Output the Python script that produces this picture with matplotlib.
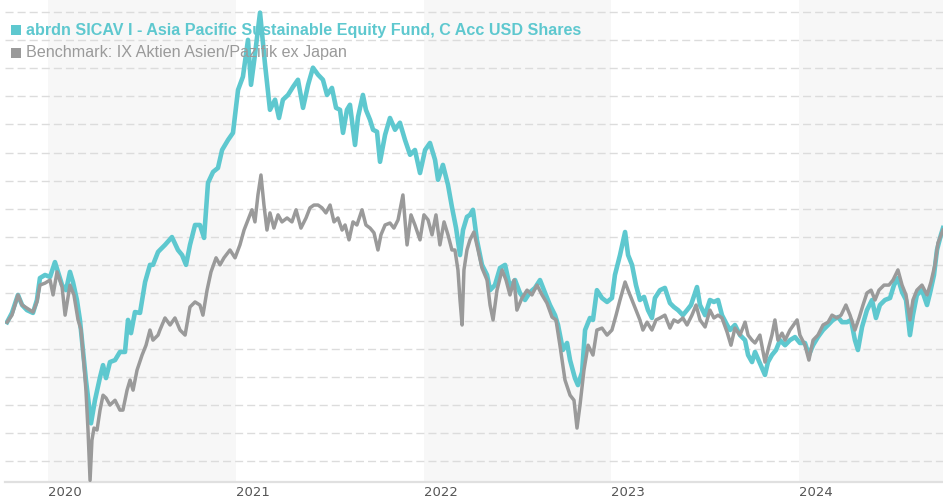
import matplotlib
matplotlib.use("Agg")
import matplotlib.pyplot as plt
from matplotlib.patches import Rectangle
import numpy as np

# ---- data (decimal years, index values) ----
fund_t = [2019.782, 2019.808, 2019.840, 2019.862, 2019.888, 2019.920, 2019.941, 2019.957, 2019.984,
          2020.011, 2020.037, 2020.053, 2020.075, 2020.096, 2020.117, 2020.133, 2020.154, 2020.170,
          2020.186, 2020.202, 2020.218, 2020.229, 2020.250, 2020.277, 2020.293, 2020.309, 2020.330,
          2020.357, 2020.383, 2020.410, 2020.426, 2020.442, 2020.463, 2020.490, 2020.517, 2020.543,
          2020.559, 2020.586, 2020.596, 2020.623, 2020.660, 2020.692, 2020.714, 2020.735, 2020.756,
          2020.783, 2020.809, 2020.831, 2020.852, 2020.879, 2020.905, 2020.927, 2020.959, 2020.985,
          2021.012, 2021.038, 2021.065, 2021.081, 2021.102, 2021.129, 2021.156, 2021.182, 2021.209,
          2021.230, 2021.251, 2021.278, 2021.305, 2021.331, 2021.358, 2021.385, 2021.411, 2021.438,
          2021.464, 2021.486, 2021.512, 2021.534, 2021.555, 2021.571, 2021.592, 2021.608, 2021.635,
          2021.651, 2021.677, 2021.693, 2021.715, 2021.731, 2021.752, 2021.768, 2021.795, 2021.821,
          2021.848, 2021.874, 2021.901, 2021.928, 2021.954, 2021.981, 2022.008, 2022.034, 2022.061,
          2022.077, 2022.103, 2022.130, 2022.151, 2022.173, 2022.194, 2022.210, 2022.231, 2022.247,
          2022.263, 2022.284, 2022.311, 2022.338, 2022.354, 2022.380, 2022.407, 2022.434, 2022.460,
          2022.487, 2022.513, 2022.540, 2022.567, 2022.593, 2022.620, 2022.647, 2022.673, 2022.700,
          2022.716, 2022.742, 2022.764, 2022.780, 2022.806, 2022.822, 2022.844, 2022.860, 2022.886,
          2022.902, 2022.923, 2022.950, 2022.977, 2023.003, 2023.019, 2023.046, 2023.073, 2023.089,
          2023.110, 2023.131, 2023.152, 2023.174, 2023.195, 2023.216, 2023.232, 2023.259, 2023.285,
          2023.312, 2023.333, 2023.355, 2023.381, 2023.403, 2023.424, 2023.456, 2023.472, 2023.499,
          2023.525, 2023.546, 2023.568, 2023.589, 2023.616, 2023.632, 2023.658, 2023.685, 2023.712,
          2023.728, 2023.749, 2023.765, 2023.791, 2023.818, 2023.834, 2023.855, 2023.877, 2023.898,
          2023.925, 2023.951, 2023.978, 2024.004, 2024.031, 2024.052, 2024.074, 2024.100, 2024.127,
          2024.154, 2024.180, 2024.207, 2024.228, 2024.255, 2024.276, 2024.297, 2024.313, 2024.335,
          2024.361, 2024.388, 2024.409, 2024.430, 2024.457, 2024.484, 2024.505, 2024.526, 2024.548,
          2024.569, 2024.590, 2024.606, 2024.627, 2024.654, 2024.681, 2024.697, 2024.718, 2024.734,
          2024.755, 2024.766]
fund_v = [99.6, 102.9, 109.3, 105.7, 103.9, 102.9, 107.5, 115.3, 116.4,
          115.7, 121.0, 117.5, 112.8, 111.0, 117.5, 113.9, 107.5, 100.4,
          89.7, 79.0, 70.1, 63.6, 71.8, 80.0, 84.3, 79.7, 85.4,
          86.1, 89.0, 89.0, 100.4, 95.7, 103.2, 102.9, 113.9, 120.0,
          120.0, 124.6, 125.3, 127.1, 129.9, 125.3, 123.5, 120.0, 127.1,
          134.2, 134.2, 129.6, 149.2, 153.1, 154.5, 160.9, 164.5, 167.0,
          182.3, 187.0, 200.1, 184.1, 194.8, 209.8, 191.2, 175.2, 178.8,
          172.3, 178.8, 180.5, 183.4, 185.9, 175.9, 184.1, 190.2, 187.7,
          185.9, 180.5, 183.0, 175.9, 175.2, 167.0, 175.2, 177.0, 162.7,
          172.7, 180.5, 175.2, 171.6, 168.1, 167.4, 156.7, 166.3, 172.3,
          168.1, 170.6, 164.5, 159.2, 160.9, 152.7, 160.9, 163.4, 157.4,
          150.3, 155.6, 148.5, 140.6, 133.1, 123.5, 132.4, 137.1, 137.8,
          139.6, 128.9, 120.0, 116.4, 111.0, 112.8, 118.9, 120.0, 112.1,
          114.6, 110.0, 107.5, 110.3, 111.8, 114.6, 110.0, 105.7, 102.1,
          98.6, 89.7, 92.2, 86.1, 79.7, 77.2, 81.8, 96.8, 101.1,
          100.4, 111.0, 108.2, 106.8, 108.2, 116.4, 123.5, 131.7, 123.5,
          120.0, 112.8, 107.5, 108.6, 103.9, 101.1, 108.2, 111.0, 111.8,
          106.4, 105.0, 103.9, 102.1, 103.9, 105.7, 112.1, 105.7, 102.1,
          107.5, 106.8, 107.5, 102.1, 98.6, 96.8, 98.6, 95.0, 93.2,
          87.9, 85.4, 89.0, 85.0, 80.8, 85.4, 87.9, 89.7, 93.2,
          91.4, 93.2, 94.3, 92.2, 92.2, 87.9, 91.4, 94.3, 96.8,
          98.6, 100.4, 101.4, 99.6, 99.6, 100.4, 93.2, 89.7, 97.9,
          103.9, 107.5, 101.1, 105.7, 107.5, 108.2, 112.8, 115.3, 110.3,
          107.5, 95.0, 102.1, 109.3, 111.0, 105.7, 110.0, 116.4, 125.3,
          130.7, 133.1]

bench_t = [2019.782, 2019.808, 2019.840, 2019.862, 2019.888, 2019.920, 2019.941, 2019.957, 2019.984,
           2020.011, 2020.027, 2020.048, 2020.075, 2020.091, 2020.117, 2020.138, 2020.160, 2020.176,
           2020.192, 2020.202, 2020.213, 2020.224, 2020.234, 2020.245, 2020.261, 2020.277, 2020.293,
           2020.309, 2020.330, 2020.357, 2020.383, 2020.399, 2020.421, 2020.437, 2020.453, 2020.474,
           2020.501, 2020.522, 2020.543, 2020.559, 2020.586, 2020.596, 2020.623, 2020.650, 2020.676,
           2020.703, 2020.730, 2020.756, 2020.783, 2020.809, 2020.825, 2020.847, 2020.868, 2020.895,
           2020.916, 2020.937, 2020.969, 2020.996, 2021.022, 2021.044, 2021.065, 2021.086, 2021.102,
           2021.118, 2021.134, 2021.150, 2021.166, 2021.182, 2021.203, 2021.225, 2021.246, 2021.273,
           2021.299, 2021.321, 2021.347, 2021.374, 2021.395, 2021.416, 2021.438, 2021.459, 2021.480,
           2021.502, 2021.523, 2021.544, 2021.566, 2021.582, 2021.603, 2021.624, 2021.645, 2021.672,
           2021.693, 2021.715, 2021.736, 2021.757, 2021.773, 2021.795, 2021.821, 2021.842, 2021.864,
           2021.890, 2021.912, 2021.933, 2021.954, 2021.981, 2022.002, 2022.024, 2022.045, 2022.066,
           2022.087, 2022.109, 2022.130, 2022.151, 2022.167, 2022.183, 2022.194, 2022.205, 2022.215,
           2022.231, 2022.247, 2022.268, 2022.290, 2022.311, 2022.338, 2022.354, 2022.370, 2022.391,
           2022.418, 2022.439, 2022.460, 2022.482, 2022.497, 2022.524, 2022.551, 2022.577, 2022.604,
           2022.631, 2022.657, 2022.684, 2022.705, 2022.726, 2022.753, 2022.780, 2022.801, 2022.817,
           2022.833, 2022.854, 2022.876, 2022.902, 2022.923, 2022.950, 2022.977, 2023.003, 2023.025,
           2023.046, 2023.073, 2023.089, 2023.110, 2023.131, 2023.152, 2023.168, 2023.190, 2023.216,
           2023.238, 2023.259, 2023.285, 2023.312, 2023.333, 2023.355, 2023.381, 2023.403, 2023.429,
           2023.451, 2023.472, 2023.499, 2023.525, 2023.546, 2023.568, 2023.589, 2023.616, 2023.637,
           2023.658, 2023.685, 2023.712, 2023.728, 2023.749, 2023.765, 2023.791, 2023.818, 2023.834,
           2023.855, 2023.871, 2023.887, 2023.909, 2023.925, 2023.951, 2023.989, 2024.004, 2024.031,
           2024.052, 2024.074, 2024.100, 2024.127, 2024.154, 2024.175, 2024.201, 2024.223, 2024.249,
           2024.271, 2024.297, 2024.319, 2024.340, 2024.361, 2024.383, 2024.404, 2024.425, 2024.452,
           2024.478, 2024.500, 2024.526, 2024.548, 2024.569, 2024.590, 2024.606, 2024.627, 2024.654,
           2024.681, 2024.702, 2024.723, 2024.739, 2024.766]
bench_v = [99.6, 102.1, 109.3, 105.7, 104.6, 103.2, 106.8, 112.8, 113.5,
           114.6, 109.3, 117.5, 112.1, 102.1, 112.8, 109.3, 100.4, 96.8,
           84.3, 75.4, 61.2, 43.3, 57.6, 61.9, 61.2, 68.3, 73.6,
           72.6, 70.1, 71.8, 68.3, 68.3, 75.4, 79.0, 75.4, 82.5,
           87.9, 91.4, 96.8, 93.2, 95.0, 96.8, 101.1, 98.6, 101.1,
           96.8, 95.0, 105.0, 106.8, 105.7, 102.1, 111.0, 117.5, 122.5,
           120.0, 122.5, 125.3, 122.5, 127.1, 132.4, 136.0, 139.6, 135.3,
           144.9, 152.0, 141.3, 132.4, 138.5, 133.1, 137.8, 135.3, 136.7,
           135.3, 139.6, 133.1, 136.7, 140.3, 141.3, 141.3, 140.3, 138.5,
           141.3, 135.3, 136.7, 132.4, 134.2, 128.9, 135.3, 134.2, 139.6,
           134.2, 133.1, 131.4, 125.3, 130.7, 134.2, 134.9, 133.1, 136.0,
           144.9, 127.1, 137.8, 134.2, 128.9, 137.8, 136.0, 130.7, 137.8,
           127.1, 135.3, 130.7, 125.3, 125.3, 118.2, 107.5, 98.6, 118.2,
           125.3, 128.9, 131.7, 125.3, 118.9, 114.6, 105.7, 100.4, 111.0,
           118.2, 114.6, 109.3, 114.6, 103.9, 108.2, 111.0, 109.3, 112.8,
           109.3, 106.4, 101.4, 100.4, 91.4, 79.0, 73.6, 71.8, 61.9,
           70.1, 82.5, 91.4, 87.9, 96.8, 97.5, 95.0, 96.8, 102.1,
           107.5, 113.9, 111.0, 107.5, 103.9, 100.4, 96.8, 99.6, 96.8,
           100.4, 101.1, 102.1, 97.5, 100.4, 99.6, 101.1, 98.6, 102.1,
           105.7, 100.4, 97.9, 103.9, 101.1, 102.1, 101.1, 96.1, 91.4,
           97.5, 95.0, 99.6, 95.0, 93.2, 92.2, 95.0, 85.4, 89.7,
           95.0, 100.4, 93.2, 95.7, 93.2, 96.8, 100.4, 95.0, 91.4,
           86.1, 93.2, 95.0, 98.6, 99.6, 102.1, 101.1, 102.1, 105.7,
           102.1, 96.8, 101.1, 105.7, 110.0, 111.0, 107.5, 111.0, 112.8,
           112.8, 114.6, 118.2, 112.8, 109.3, 100.4, 107.5, 111.0, 112.8,
           109.3, 113.9, 120.0, 127.8, 132.4]

years = [2020, 2021, 2022, 2023, 2024]
shaded_years = [2020, 2022, 2024]
grid_levels = [50, 60, 70, 80, 90, 100, 110, 120, 130, 140, 150, 160, 170, 180, 190, 200, 210]

fund_label = "abrdn SICAV I - Asia Pacific Sustainable Equity Fund, C Acc USD Shares"
bench_label = "Benchmark: IX Aktien Asien/Pazifik ex Japan"

TEAL = "#5ec8cf"
GREY = "#9a9a9a"

W, H = 943, 500
fig = plt.figure(figsize=(W / 100, H / 100), dpi=100)
ax = fig.add_axes([5 / W, 18 / H, 938 / W, 482 / H])

x0, x1 = 2019.771, 2024.766
ax.set_xlim(x0, x1)
ax.set_ylim(42.7, 214.3)

for yr in shaded_years:
    ax.axvspan(yr, min(yr + 1, x1), color="#f7f7f7", lw=0, zorder=0)

for g in grid_levels:
    ax.axhline(g, color="#dcdcdc", lw=1.0, dashes=(5.8, 2.9), zorder=1)

ax.plot(fund_t, fund_v, color=TEAL, lw=3.3, solid_joinstyle="round", zorder=3)
ax.plot(bench_t, bench_v, color=GREY, lw=2.5, solid_joinstyle="round", zorder=4)

for s in ["top", "right", "left"]:
    ax.spines[s].set_visible(False)
ax.spines["bottom"].set_color("#e0e0e0")
ax.spines["bottom"].set_linewidth(1.6)
ax.set_yticks([])
ax.set_xticks(years)
ax.set_xticklabels([str(y) for y in years], ha="left",
                   fontfamily=["Liberation Sans Narrow", "DejaVu Sans"], fontsize=9.5, color="#555555")
ax.tick_params(axis="x", length=0, pad=3)

# legend
fig.patches.append(Rectangle((11 / W, 1 - 35 / H), 10 / W, 10 / H, transform=fig.transFigure,
                             facecolor=TEAL, edgecolor="none", zorder=10))
fig.patches.append(Rectangle((11 / W, 1 - 58 / H), 10 / W, 10 / H, transform=fig.transFigure,
                             facecolor=GREY, edgecolor="none", zorder=10))
fig.text(26 / W, 1 - 30 / H, fund_label, color=TEAL, fontsize=11.6, fontweight="bold",
         family=["Liberation Sans", "DejaVu Sans"], va="center", ha="left")
fig.text(26 / W, 1 - 53 / H, bench_label, color=GREY, fontsize=11.6,
         family=["Liberation Sans", "DejaVu Sans"], va="center", ha="left")

fig.savefig("out.png", dpi=100)
